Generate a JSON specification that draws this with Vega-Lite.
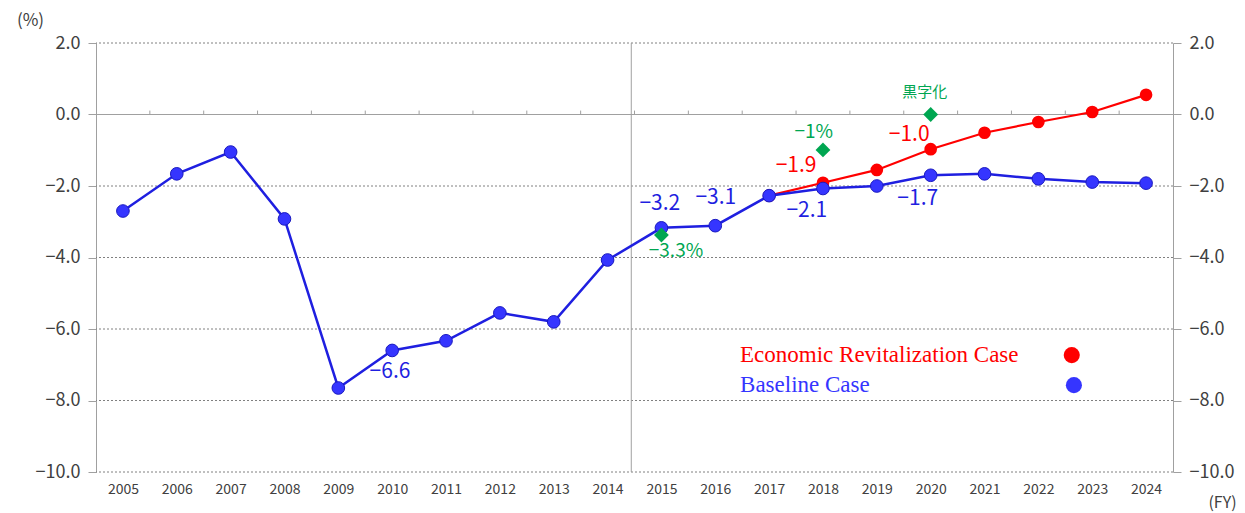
{
  "$schema": "https://vega.github.io/schema/vega-lite/v6.json",
  "width": 1077,
  "height": 429,
  "autosize": {"type": "none"},
  "padding": {"left": 96, "top": 43, "right": 72, "bottom": 41},
  "background": "white",
  "config": {"view": {"stroke": null}, "font": "Noto Sans CJK JP"},
  "datasets": {
    "baseline": [
      {"year": 2005, "value": -2.7}, {"year": 2006, "value": -1.66}, {"year": 2007, "value": -1.05},
      {"year": 2008, "value": -2.92}, {"year": 2009, "value": -7.65}, {"year": 2010, "value": -6.6},
      {"year": 2011, "value": -6.33}, {"year": 2012, "value": -5.55}, {"year": 2013, "value": -5.8},
      {"year": 2014, "value": -4.07}, {"year": 2015, "value": -3.17}, {"year": 2016, "value": -3.11},
      {"year": 2017, "value": -2.27}, {"year": 2018, "value": -2.07}, {"year": 2019, "value": -2.0},
      {"year": 2020, "value": -1.7}, {"year": 2021, "value": -1.66}, {"year": 2022, "value": -1.8},
      {"year": 2023, "value": -1.89}, {"year": 2024, "value": -1.92}
    ],
    "revital": [
      {"year": 2017, "value": -2.27}, {"year": 2018, "value": -1.91}, {"year": 2019, "value": -1.55},
      {"year": 2020, "value": -0.97}, {"year": 2021, "value": -0.51}, {"year": 2022, "value": -0.21},
      {"year": 2023, "value": 0.07}, {"year": 2024, "value": 0.55}
    ],
    "targets": [
      {"year": 2015, "value": -3.37}, {"year": 2018, "value": -0.99}, {"year": 2020, "value": 0.0}
    ],
    "grid": [{"y": 2}, {"y": -2}, {"y": -4}, {"y": -6}, {"y": -8}, {"y": -10}],
    "bounds": [
      {"x": 2005.5}, {"x": 2006.5}, {"x": 2007.5}, {"x": 2008.5}, {"x": 2009.5}, {"x": 2010.5},
      {"x": 2011.5}, {"x": 2012.5}, {"x": 2013.5}, {"x": 2014.5}, {"x": 2015.5}, {"x": 2016.5},
      {"x": 2017.5}, {"x": 2018.5}, {"x": 2019.5}, {"x": 2020.5}, {"x": 2021.5}, {"x": 2022.5},
      {"x": 2023.5}
    ],
    "blueLabels": [
      {"x": 2014.97, "y": -2.5, "t": "−3.2"},
      {"x": 2016.01, "y": -2.33, "t": "−3.1"},
      {"x": 2017.7, "y": -2.7, "t": "−2.1"},
      {"x": 2019.76, "y": -2.37, "t": "−1.7"},
      {"x": 2009.96, "y": -7.2, "t": "−6.6"}
    ],
    "redLabels": [
      {"x": 2017.5, "y": -1.44, "t": "−1.9"},
      {"x": 2019.6, "y": -0.58, "t": "−1.0"}
    ],
    "greenLabels": [
      {"x": 2017.83, "y": -0.49, "t": "−1%", "s": 19},
      {"x": 2015.27, "y": -3.82, "t": "−3.3%", "s": 19},
      {"x": 2019.89, "y": 0.63, "t": "黒字化", "s": 15}
    ],
    "legend": [
      {"x": 2016.46, "y": -6.73, "t": "Economic Revitalization Case", "case": "Economic Revitalization Case", "px": 2022.62},
      {"x": 2016.46, "y": -7.57, "t": "Baseline Case", "case": "Baseline Case", "px": 2022.66}
    ]
  },
  "resolve": {"axis": {"x": "independent", "y": "independent"}},
  "layer": [
    {
      "data": {"name": "grid"},
      "mark": {"type": "rule", "color": "#808080", "strokeDash": [2, 2], "strokeWidth": 1},
      "encoding": {
        "y": {"field": "y", "type": "quantitative", "scale": {"domain": [-10, 2], "nice": false},
          "axis": {"orient": "left", "values": [2, 0, -2, -4, -6, -8, -10], "format": ".1f",
            "grid": false, "domainColor": "#a0a0a0", "tickColor": "#a0a0a0", "tickSize": 8,
            "labelFontSize": 18, "labelColor": "#404040", "labelPadding": 8,
            "title": "(%)", "titleAngle": 0, "titleX": -66, "titleY": -23, "titleAlign": "center",
            "titleBaseline": "middle", "titleFontSize": 17, "titleFontWeight": "normal", "titleColor": "#404040"}}
      }
    },
    {
      "data": {"values": [{"y": 0}]},
      "mark": {"type": "rule", "color": "#a0a0a0", "strokeWidth": 1},
      "encoding": {
        "y": {"field": "y", "type": "quantitative", "scale": {"domain": [-10, 2], "nice": false},
          "axis": {"orient": "right", "values": [2, 0, -2, -4, -6, -8, -10], "format": ".1f",
            "grid": false, "domainColor": "#a0a0a0", "tickColor": "#a0a0a0", "tickSize": 8,
            "labelFontSize": 18, "labelColor": "#404040", "labelPadding": 8, "title": null}}
      }
    },
    {
      "data": {"values": [{"x": 2014.44}]},
      "mark": {"type": "rule", "color": "#a0a0a0", "strokeWidth": 1},
      "encoding": {
        "x": {"field": "x", "type": "quantitative", "scale": {"domain": [2004.5, 2024.5], "nice": false, "zero": false}, "axis": null}
      }
    },
    {
      "data": {"name": "bounds"},
      "mark": {"type": "rule", "color": "#a0a0a0", "strokeWidth": 1},
      "encoding": {
        "x": {"field": "x", "type": "quantitative", "scale": {"domain": [2004.5, 2024.5], "nice": false, "zero": false}, "axis": null},
        "y": {"datum": 0, "type": "quantitative", "axis": null},
        "y2": {"datum": 0.11}
      }
    },
    {
      "data": {"name": "revital"},
      "mark": {"type": "line", "color": "#ff0000", "strokeWidth": 2.2},
      "encoding": {
        "x": {"field": "year", "type": "quantitative", "scale": {"domain": [2004.5, 2024.5], "nice": false, "zero": false}, "axis": null},
        "y": {"field": "value", "type": "quantitative", "axis": null}
      }
    },
    {
      "data": {"name": "revital"},
      "mark": {"type": "point", "shape": "circle", "filled": true, "size": 160, "color": "#ff0000", "opacity": 1},
      "encoding": {
        "x": {"field": "year", "type": "quantitative", "scale": {"domain": [2004.5, 2024.5], "nice": false, "zero": false}, "axis": null},
        "y": {"field": "value", "type": "quantitative", "axis": null}
      }
    },
    {
      "data": {"name": "baseline"},
      "mark": {"type": "line", "color": "#1f1fe0", "strokeWidth": 2.5},
      "encoding": {
        "x": {"field": "year", "type": "quantitative", "scale": {"domain": [2004.5, 2024.5], "nice": false, "zero": false},
          "axis": {"orient": "bottom", "values": [2005, 2006, 2007, 2008, 2009, 2010, 2011, 2012, 2013, 2014, 2015, 2016, 2017, 2018, 2019, 2020, 2021, 2022, 2023, 2024],
            "format": "d", "ticks": false, "domain": false, "grid": false, "labelFontSize": 14, "labelColor": "#404040",
            "labelPadding": 10, "title": "(FY)", "titleX": 1126, "titleY": 30, "titleAlign": "center", "titleBaseline": "middle",
            "titleFontSize": 16, "titleFontWeight": "normal", "titleColor": "#404040"}},
        "y": {"field": "value", "type": "quantitative", "axis": null}
      }
    },
    {
      "data": {"name": "baseline"},
      "mark": {"type": "point", "shape": "circle", "filled": true, "size": 160, "color": "#3535ff", "stroke": "#1a1ac0", "strokeWidth": 1, "opacity": 1},
      "encoding": {
        "x": {"field": "year", "type": "quantitative", "scale": {"domain": [2004.5, 2024.5], "nice": false, "zero": false}, "axis": null},
        "y": {"field": "value", "type": "quantitative", "axis": null}
      }
    },
    {
      "data": {"name": "targets"},
      "mark": {"type": "point", "shape": "diamond", "filled": true, "size": 220, "color": "#00a651", "opacity": 1},
      "encoding": {
        "x": {"field": "year", "type": "quantitative", "scale": {"domain": [2004.5, 2024.5], "nice": false, "zero": false}, "axis": null},
        "y": {"field": "value", "type": "quantitative", "axis": null}
      }
    },
    {
      "data": {"name": "blueLabels"},
      "mark": {"type": "text", "color": "#1f1fe0", "fontSize": 21, "align": "center", "baseline": "middle"},
      "encoding": {
        "x": {"field": "x", "type": "quantitative", "scale": {"domain": [2004.5, 2024.5], "nice": false, "zero": false}, "axis": null},
        "y": {"field": "y", "type": "quantitative", "axis": null},
        "text": {"field": "t"}
      }
    },
    {
      "data": {"name": "redLabels"},
      "mark": {"type": "text", "color": "#ff0000", "fontSize": 21, "align": "center", "baseline": "middle"},
      "encoding": {
        "x": {"field": "x", "type": "quantitative", "scale": {"domain": [2004.5, 2024.5], "nice": false, "zero": false}, "axis": null},
        "y": {"field": "y", "type": "quantitative", "axis": null},
        "text": {"field": "t"}
      }
    },
    {
      "data": {"name": "greenLabels"},
      "mark": {"type": "text", "color": "#00a651", "align": "center", "baseline": "middle"},
      "encoding": {
        "x": {"field": "x", "type": "quantitative", "scale": {"domain": [2004.5, 2024.5], "nice": false, "zero": false}, "axis": null},
        "y": {"field": "y", "type": "quantitative", "axis": null},
        "size": {"field": "s", "type": "quantitative", "scale": null, "legend": null},
        "text": {"field": "t"}
      }
    },
    {
      "data": {"name": "legend"},
      "mark": {"type": "text", "font": "Liberation Serif", "fontSize": 23, "align": "left", "baseline": "middle"},
      "encoding": {
        "x": {"field": "x", "type": "quantitative", "scale": {"domain": [2004.5, 2024.5], "nice": false, "zero": false}, "axis": null},
        "y": {"field": "y", "type": "quantitative", "axis": null},
        "color": {"field": "case", "type": "nominal", "scale": {"domain": ["Economic Revitalization Case", "Baseline Case"], "range": ["#ff0000", "#3535ff"]}, "legend": null},
        "text": {"field": "t"}
      }
    },
    {
      "data": {"name": "legend"},
      "mark": {"type": "point", "shape": "circle", "filled": true, "size": 260, "opacity": 1},
      "encoding": {
        "x": {"field": "px", "type": "quantitative", "scale": {"domain": [2004.5, 2024.5], "nice": false, "zero": false}, "axis": null},
        "y": {"field": "y", "type": "quantitative", "axis": null},
        "color": {"field": "case", "type": "nominal", "scale": {"domain": ["Economic Revitalization Case", "Baseline Case"], "range": ["#ff0000", "#3535ff"]}, "legend": null}
      }
    }
  ]
}
